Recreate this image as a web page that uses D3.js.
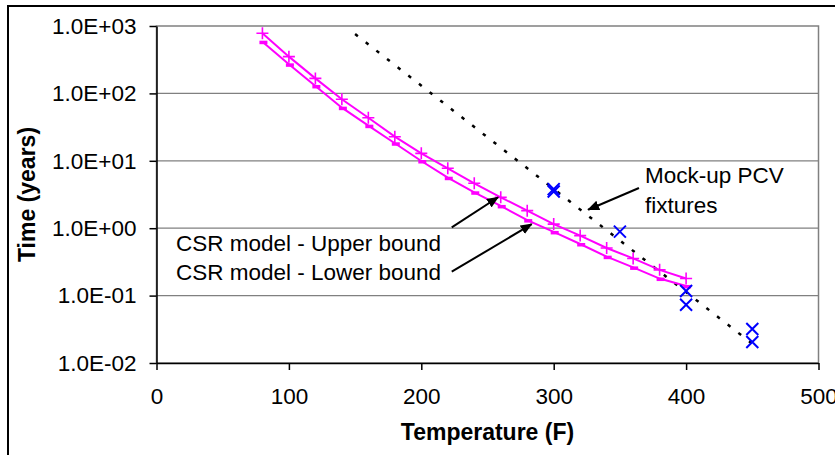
<!DOCTYPE html>
<html>
  <head>
    <title>CSR model vs mock-up PCV fixtures</title>
    <script type="text/javascript" src="https://cdnjs.cloudflare.com/ajax/libs/d3/7.8.5/d3.min.js"></script>
    <style>
      body { margin: 0; background: #fff; }
      text { font-family: "Liberation Sans", Arial, sans-serif; }
    </style>
  </head>
  <body>
  <script>

    // CSR model, every 20 F
    var temps = [80, 100, 120, 140, 160, 180, 200, 220, 240, 260, 280, 300, 320, 340, 360, 380, 400];
    var upperBound = [780, 351, 167, 81.7, 43.6, 22.8, 12.9, 7.74, 4.64, 2.87, 1.82, 1.15, 0.776, 0.508, 0.356, 0.241, 0.179];
    var lowerBound = [585, 270, 129, 61.4, 33.2, 18.2, 9.93, 5.61, 3.41, 2.14, 1.32, 0.88, 0.583, 0.378, 0.262, 0.179, 0.139];

    // mock-up PCV fixtures
    var mockupTemps = [300, 300, 350, 400, 400, 450, 450];
    var mockupTimes = [3.5, 3.8, 0.89, 0.117, 0.073, 0.032, 0.0205];

    // exponential trendline through the fixtures (end points)
    var trendTemps = [150, 450];
    var trendTimes = [760, 0.0193];

    var xTicks = [0, 100, 200, 300, 400, 500];
    var yTicks = [0.01, 0.1, 1, 10, 100, 1000];
    var yTickLabels = ['1.0E-02', '1.0E-01', '1.0E+00', '1.0E+01', '1.0E+02', '1.0E+03'];

    var svg = d3.select('body')
              .append('svg')
              .attr('width', 835)
              .attr('height', 455);

    svg.append('defs').append('marker')
      .attr('id', 'arrow')
      .attr('viewBox', '0 0 12 10')
      .attr('refX', 11)
      .attr('refY', 5)
      .attr('markerUnits', 'userSpaceOnUse')
      .attr('markerWidth', 12)
      .attr('markerHeight', 10)
      .attr('orient', 'auto')
      .append('path')
      .attr('d', 'M0,0 L12,5 L0,10 Z')
      .attr('fill', '#000');

    // outer chart border
    svg.append('rect')
      .attr('x', 8).attr('y', 6)
      .attr('width', 840).attr('height', 460)
      .attr('fill', '#fff')
      .attr('stroke', '#000')
      .attr('stroke-width', 2);

    var x = d3.scaleLinear()
      .domain([0, 500])
      .range([156.5, 818.5]);

    var y = d3.scaleLog()
      .domain([0.01, 1000])
      .range([363, 26]);

    // plot frame + gridlines
    svg.append('rect')
      .attr('x', x(0)).attr('y', y(1000))
      .attr('width', x(500) - x(0)).attr('height', y(0.01) - y(1000))
      .attr('fill', 'none')
      .attr('stroke', '#808080')
      .attr('stroke-width', 1.5);

    svg.selectAll('line.grid')
      .data(yTicks.slice(1, -1))
      .enter().append('line')
      .attr('class', 'grid')
      .attr('x1', x(0)).attr('x2', x(500))
      .attr('y1', function(d) { return y(d); })
      .attr('y2', function(d) { return y(d); })
      .attr('stroke', '#808080')
      .attr('stroke-width', 1.3);

    // axes
    var yAxis = svg.append('g')
      .attr('transform', 'translate(' + x(0) + ',0)')
      .call(d3.axisLeft(y)
        .tickValues(yTicks)
        .tickFormat(function(d, i) { return yTickLabels[i]; })
        .tickSize(7).tickSizeOuter(0).tickPadding(13));

    var xAxis = svg.append('g')
      .attr('transform', 'translate(0,' + y(0.01) + ')')
      .call(d3.axisBottom(x)
        .tickValues(xTicks)
        .tickFormat(d3.format('d'))
        .tickSize(7).tickSizeOuter(0).tickPadding(18));

    [xAxis, yAxis].forEach(function(g) {
      g.select('.domain').attr('stroke', '#000').attr('stroke-width', 1.5);
      g.selectAll('.tick line').attr('stroke', '#000').attr('stroke-width', 1.5);
      g.selectAll('text')
        .attr('font-family', '"Liberation Sans", Arial, sans-serif')
        .attr('font-size', 22.5)
        .attr('fill', '#000');
    });

    svg.append('text')
      .attr('x', (x(0) + x(500)) / 2)
      .attr('y', 440)
      .attr('text-anchor', 'middle')
      .attr('font-weight', 'bold')
      .attr('font-size', 23)
      .text('Temperature (F)');

    svg.append('text')
      .attr('transform', 'translate(35,' + (y(0.01) + y(1000)) / 2 + ') rotate(-90)')
      .attr('text-anchor', 'middle')
      .attr('font-weight', 'bold')
      .attr('font-size', 23)
      .text('Time (years)');

    // trendline
    var trend = trendTemps.map(function(t, i) { return [t, trendTimes[i]]; });
    svg.append('path')
      .datum(trend)
      .attr('d', d3.line()
        .x(function(d) { return x(d[0]); })
        .y(function(d) { return y(d[1]); }))
      .attr('fill', 'none')
      .attr('stroke', '#000')
      .attr('stroke-width', 2.5)
      .attr('stroke-dasharray', '3.5,10');

    // CSR model lines
    var magenta = '#ff00ff';
    var modelLine = d3.line()
      .x(function(d) { return x(d[0]); })
      .y(function(d) { return y(d[1]); });

    var upper = temps.map(function(t, i) { return [t, upperBound[i]]; });
    var lower = temps.map(function(t, i) { return [t, lowerBound[i]]; });

    [upper, lower].forEach(function(series) {
      svg.append('path')
        .datum(series)
        .attr('d', modelLine)
        .attr('fill', 'none')
        .attr('stroke', magenta)
        .attr('stroke-width', 2);
    });

    // + markers on upper bound
    svg.selectAll('path.plus')
      .data(upper)
      .enter().append('path')
      .attr('class', 'plus')
      .attr('d', function(d) {
        var cx = x(d[0]), cy = y(d[1]);
        return 'M' + (cx - 6) + ',' + cy + 'H' + (cx + 6) + 'M' + cx + ',' + (cy - 6) + 'V' + (cy + 6);
      })
      .attr('stroke', magenta)
      .attr('stroke-width', 1.6);

    // dash markers on lower bound
    svg.selectAll('rect.dash')
      .data(lower)
      .enter().append('rect')
      .attr('class', 'dash')
      .attr('x', function(d) { return x(d[0]) - 3; })
      .attr('y', function(d) { return y(d[1]) - 1; })
      .attr('width', 8)
      .attr('height', 3.5)
      .attr('fill', magenta);

    // x markers for fixtures
    svg.selectAll('path.cross')
      .data(mockupTemps.map(function(t, i) { return [t, mockupTimes[i]]; }))
      .enter().append('path')
      .attr('class', 'cross')
      .attr('d', function(d) {
        var cx = x(d[0]), cy = y(d[1]), s = 6;
        return 'M' + (cx - s) + ',' + (cy - s) + 'L' + (cx + s) + ',' + (cy + s) +
               'M' + (cx - s) + ',' + (cy + s) + 'L' + (cx + s) + ',' + (cy - s);
      })
      .attr('stroke', '#0000ff')
      .attr('stroke-width', 2);

    // annotations
    var arrows = [
      { from: [223, 1.03], to: [258, 2.88] },
      { from: [223, 0.226], to: [283.4, 1.15] },
      { from: [364.4, 3.95], to: [326, 1.88] }
    ];
    svg.selectAll('line.arrow')
      .data(arrows)
      .enter().append('line')
      .attr('class', 'arrow')
      .attr('x1', function(d) { return x(d.from[0]); })
      .attr('y1', function(d) { return y(d.from[1]); })
      .attr('x2', function(d) { return x(d.to[0]); })
      .attr('y2', function(d) { return y(d.to[1]); })
      .attr('stroke', '#000')
      .attr('stroke-width', 2)
      .attr('marker-end', 'url(#arrow)');

    var notes = [
      { text: 'CSR model - Upper bound', x: 176, y: 251 },
      { text: 'CSR model - Lower bound', x: 176, y: 280 },
      { text: 'Mock-up PCV', x: 645, y: 183 },
      { text: 'fixtures', x: 645, y: 213 }
    ];
    svg.selectAll('text.note')
      .data(notes)
      .enter().append('text')
      .attr('class', 'note')
      .attr('x', function(d) { return d.x; })
      .attr('y', function(d) { return d.y; })
      .attr('font-size', 22.5)
      .attr('fill', '#000')
      .text(function(d) { return d.text; });

  </script>
 </body>
</html>
